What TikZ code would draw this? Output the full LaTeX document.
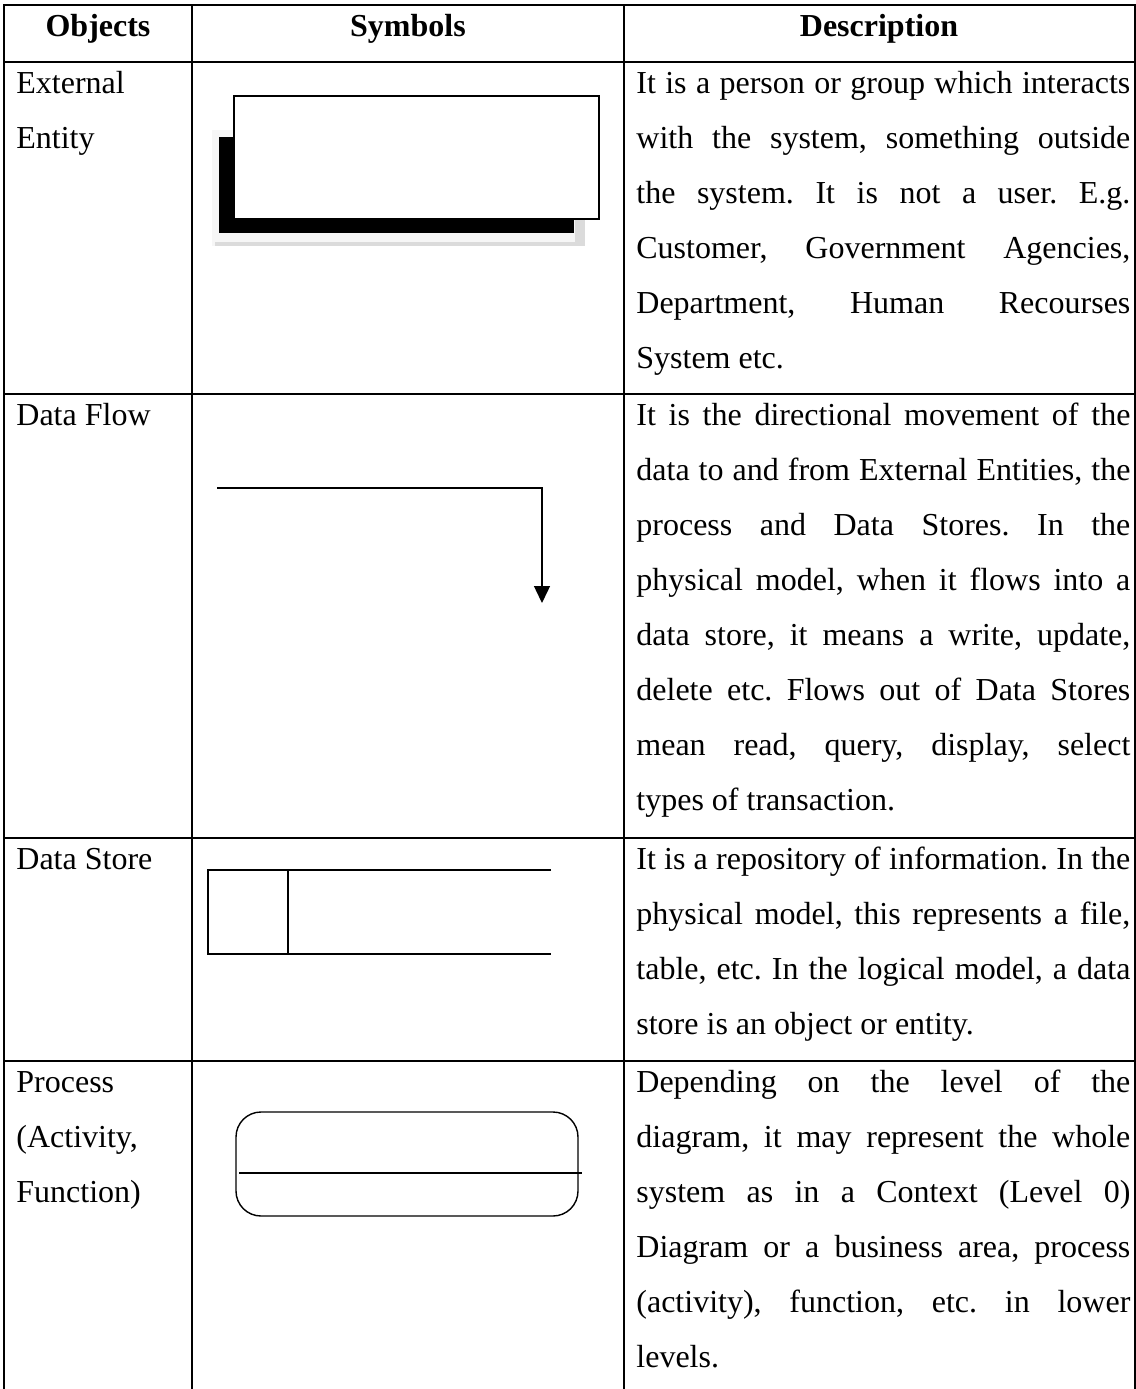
\documentclass[tikz,border=0pt]{standalone}
\usepackage{fontspec}
\setmainfont{Liberation Serif}
\usetikzlibrary{arrows.meta}
\frenchspacing
% one line of justified text, stretched to the cell width
\newcommand\justline[1]{\makebox[247pt][s]{#1}}
\begin{document}
\begin{tikzpicture}[x=0.5pt,y=-0.5pt,
  rule/.style={line width=1pt, line cap=rect},
  sym/.style={line width=0.7pt},
  head/.style={anchor=base, inner sep=0pt, font=\fontsize{16}{19}\selectfont\bfseries},
  cell/.style={anchor=base west, inner sep=0pt, font=\fontsize{16}{27.5}\selectfont},
]
\useasboundingbox (0,0) rectangle (1136,1389);

% table rules (the table runs on past the bottom edge)
\foreach \yy in {5,62,394,838,1061} \draw[rule] (4,\yy) -- (1135,\yy);
\foreach \xx in {4,192,624,1135} \draw[rule] (\xx,5) -- (\xx,1389);

% header
\node[head] (hObj) at (98,36) {Objects};
\node[head] (hSym) at (408,36) {Symbols};
\node[head] (hDesc) at (879,36) {Description};

% object names
\node[cell] (oEnt) at (16,93) {\begin{tabular}[t]{@{}l@{}}External\\Entity\end{tabular}};
\node[cell] (oFlow) at (16,425) {\begin{tabular}[t]{@{}l@{}}Data Flow\end{tabular}};
\node[cell] (oStore) at (16,869) {\begin{tabular}[t]{@{}l@{}}Data Store\end{tabular}};
\node[cell] (oProc) at (16,1092) {\begin{tabular}[t]{@{}l@{}}Process\\(Activity,\\Function)\end{tabular}};

% descriptions
\node[cell] (dEnt) at (636,93) {\begin{tabular}[t]{@{}l@{}}
\justline{It is a person or group which interacts}\\
\justline{with the system, something outside}\\
\justline{the system. It is not a user. E.g.}\\
\justline{Customer, Government Agencies,}\\
\justline{Department, Human Recourses}\\
System etc.\end{tabular}};
\node[cell] (dFlow) at (636,425) {\begin{tabular}[t]{@{}l@{}}
\justline{It is the directional movement of the}\\
\justline{data to and from External Entities, the}\\
\justline{process and Data Stores. In the}\\
\justline{physical model, when it flows into a}\\
\justline{data store, it means a write, update,}\\
\justline{delete etc. Flows out of Data Stores}\\
\justline{mean read, query, display, select}\\
types of transaction.\end{tabular}};
\node[cell] (dStore) at (636,869) {\begin{tabular}[t]{@{}l@{}}
\justline{It is a repository of information. In the}\\
\justline{physical model, this represents a file,}\\
\justline{table, etc. In the logical model, a data}\\
store is an object or entity.\end{tabular}};
\node[cell] (dProc) at (636,1092) {\begin{tabular}[t]{@{}l@{}}
\justline{Depending on the level of the}\\
\justline{diagram, it may represent the whole}\\
\justline{system as in a Context (Level 0)}\\
\justline{Diagram or a business area, process}\\
\justline{(activity), function, etc. in lower}\\
levels.\end{tabular}};

% external entity: box with a black drop shadow on a pale backing
\fill[gray!7] (212,130) rectangle (585,246);
\fill[gray!28] (575,220) rectangle (585,246);
\fill[gray!28] (215,242) rectangle (585,246);
\fill[black] (219,137) rectangle (574,233);
\filldraw[sym, fill=white] (234,96) rectangle (599,219);

% data flow: bent arrow
\coordinate (flowStart) at (217,488);
\coordinate (flowBend) at (542,488);
\coordinate (flowEnd) at (542,603);
\draw[sym, -{Triangle[width=8pt,length=8.5pt]}] (flowStart) -- (flowBend) -- (flowEnd);

% data store: open-ended box with an id compartment
\draw[sym] (551,870) -- (208,870) -- (208,954) -- (551,954);
\draw[sym] (288,870) -- (288,954);

% process: rounded box split by a line
\draw[sym, rounded corners=12.5pt] (236,1112) rectangle (578,1216);
\draw[sym] (239,1173) -- (582,1173);
\end{tikzpicture}
\end{document}
